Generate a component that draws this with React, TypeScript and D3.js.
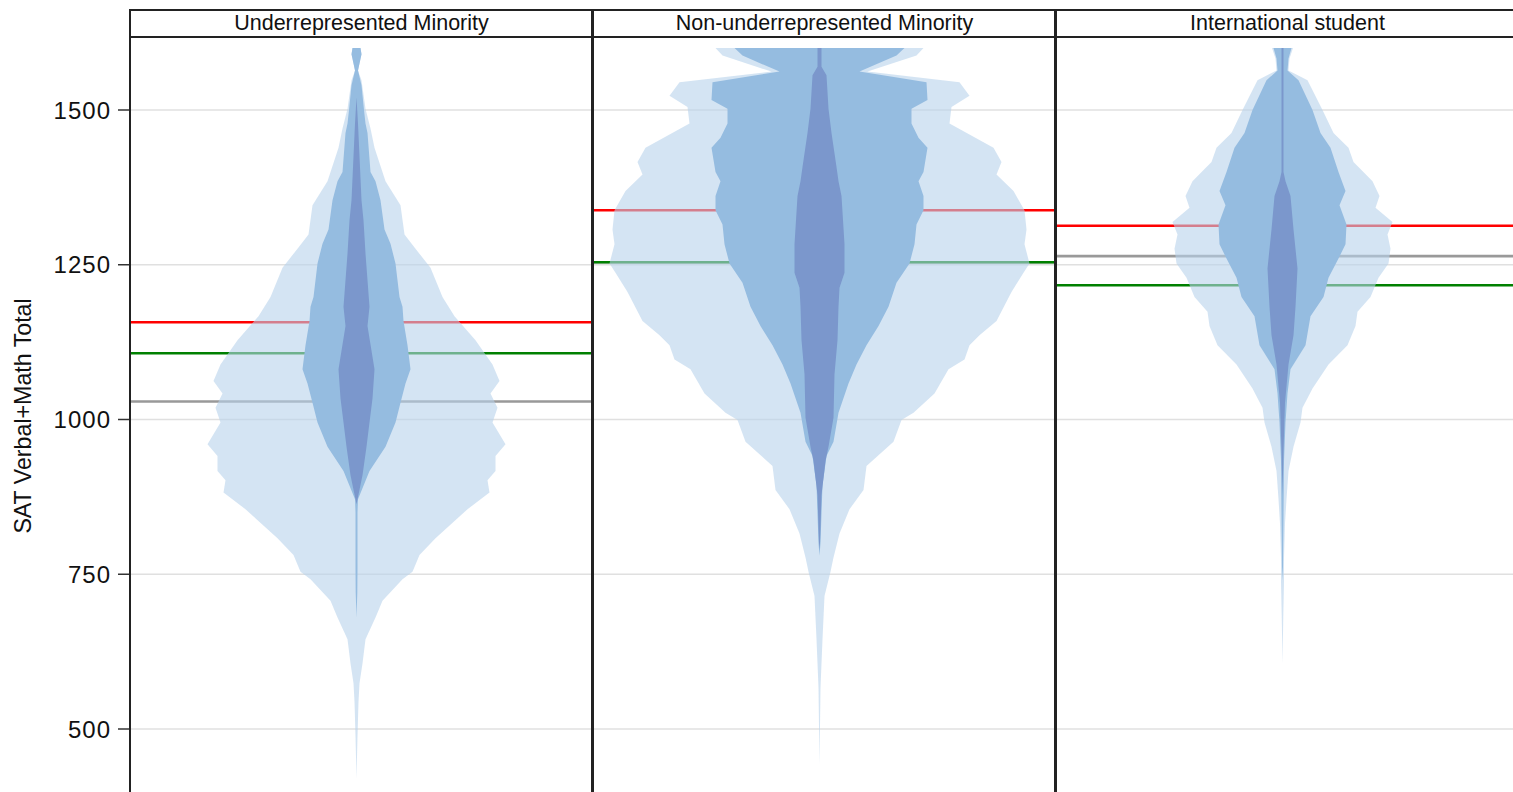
import React from 'react';
import * as d3 from 'd3';

type Pt = [number, number]; // [SAT score, relative density (half-width)]

const groups = ['Underrepresented Minority', 'Non-underrepresented Minority', 'International student'];
const yTicks = [500, 750, 1000, 1250, 1500];

// Underrepresented Minority
const urmOuter: Pt[] = [[1600,4],[1590,5],[1564,1.5],[1548,5],[1502,9],[1470,14],[1439,18],[1385,29],[1346,44],[1299,48],[1276,59],[1245,74],[1198,86],[1167,98],[1128,119],[1089,136],[1062,143],[1042,134],[1019,141],[995,136],[960,149],[941,139],[917,139],[902,131],[882,133],[855,111],[808,79],[781,63],[754,56],[742,46],[707,26],[680,19],[645,9],[606,6],[574,3],[544,2],[489,1],[420,0]];
const urmMid: Pt[] = [[1600,4],[1590,5],[1564,1.5],[1540,5],[1500,7.5],[1478,9],[1463,11],[1400,14],[1385,19],[1354,24],[1307,28],[1284,34],[1252,39],[1198,43],[1182,46],[1159,47],[1120,51],[1081,54],[1058,49],[1027,44],[995,39],[956,29],[917,13],[871,1.5],[850,1],[760,1],[720,0.8],[680,0]];
const urmInner: Pt[] = [[1520,0],[1478,1.5],[1354,5],[1322,7],[1268,9],[1182,13],[1151,11],[1081,18],[1034,16],[995,13],[956,10],[910,6],[863,0]];

// Non-underrepresented Minority
const nonOuter: Pt[] = [[1600,104],[1588,97],[1562,48],[1545,140],[1523,150],[1505,132],[1478,130],[1439,174],[1416,182],[1396,177],[1369,194],[1338,205],[1307,207],[1283,205],[1252,210],[1237,204],[1206,192],[1159,177],[1136,160],[1120,150],[1097,145],[1081,129],[1042,115],[1011,94],[999,82],[964,74],[925,47],[886,44],[855,30],[816,20],[777,14],[754,11],[715,5],[645,3],[567,1],[442,0]];
const nonMid: Pt[] = [[1600,85],[1588,77],[1562,40],[1545,107],[1516,108],[1502,92],[1478,92],[1455,99],[1439,108],[1400,104],[1385,99],[1361,104],[1338,104],[1315,97],[1283,95],[1252,90],[1221,77],[1182,69],[1151,59],[1120,47],[1089,37],[1058,29],[1011,19],[964,14],[941,7],[917,5],[894,3],[801,1],[780,0]];
const nonInner: Pt[] = [[1600,2],[1570,2],[1556,7],[1502,9],[1463,12],[1408,17],[1385,19],[1361,22],[1283,25],[1237,25],[1213,20],[1182,19],[1128,18],[1073,15],[1003,14],[956,9],[933,6],[878,2],[801,0.5],[790,0]];

// International student
const intOuter: Pt[] = [[1600,10.5],[1583,7],[1564,6],[1548,25],[1500,40],[1463,51],[1439,66],[1416,71],[1385,90],[1361,97],[1342,93],[1319,110],[1299,105],[1276,108],[1252,106],[1229,96],[1198,88],[1174,75],[1151,73],[1120,65],[1089,46],[1050,30],[1019,20],[995,18],[956,11],[917,6],[871,4],[832,2.5],[777,1.5],[738,1.5],[684,0.8],[606,0]];
const intMid: Pt[] = [[1600,9],[1583,6],[1564,5],[1548,16],[1500,30],[1463,38],[1439,48],[1400,56],[1369,63],[1346,57],[1315,64],[1283,63],[1260,56],[1229,46],[1198,41],[1167,28],[1120,23],[1081,8],[1042,5],[995,3],[933,1.5],[840,1],[762,0.5],[740,0]];
const intInner: Pt[] = [[1600,1],[1400,1],[1385,3],[1361,8],[1307,11],[1244,15],[1182,13],[1136,11],[1089,6],[1027,2.5],[949,1],[878,0]];

const outerLayers = [urmOuter, nonOuter, intOuter];
const midLayers = [urmMid, nonMid, intMid];
const innerLayers = [urmInner, nonInner, intInner];

const redLine = [1157, 1338, 1313];
const greenLine = [1107, 1254, 1217];
const grayLine = [1029, 1254, 1264];

const FONT = '"Liberation Sans", Arial, Helvetica, sans-serif';

export default function App() {
  const W = 1513;
  const H = 792;
  const plotTop = 37;
  const plotBottom = 820;
  const x = d3.scaleBand<string>().domain(groups).range([130, 130 + 3 * 463]).paddingInner(0);
  const bw = x.bandwidth();
  const y = d3.scaleLinear().domain([500, 1500]).range([729, 110]);
  const w = d3.scaleLinear().domain([0, 210]).range([0, 210]);

  const violin = (cx: number, pts: Pt[]) =>
    d3
      .area<Pt>()
      .y((d) => y(d[0]))
      .x0((d) => cx - w(d[1]))
      .x1((d) => cx + w(d[1]))
      .curve(d3.curveLinear)(pts) || '';

  return (
    <svg
      width={W}
      height={H}
      style={{ position: 'absolute', left: 0, top: 0, background: '#fff' }}
      fontFamily={FONT}
    >
      {/* y axis title */}
      <text
        transform={`translate(31, 416) rotate(-90)`}
        textAnchor="middle"
        fontSize={23.2}
        fill="#111"
      >
        SAT Verbal+Math Total
      </text>
      {/* y ticks */}
      {yTicks.map((t) => (
        <g key={t}>
          <line x1={118} x2={130} y1={y(t)} y2={y(t)} stroke="#333" strokeWidth={1.5} />
          <text x={111} y={y(t)} dy="0.36em" textAnchor="end" fontSize={24} letterSpacing={1} fill="#111">
            {t}
          </text>
        </g>
      ))}
      {groups.map((g, i) => {
        const x0 = x(g) as number;
        const cx = x0 + 226.5;
        const x1 = x0 + bw - 1;
        return (
          <g key={g}>
            {/* gridlines */}
            {yTicks.map((t) => (
              <line key={t} x1={x0} x2={x1} y1={y(t)} y2={y(t)} stroke="#e0e0e0" strokeWidth={1.3} />
            ))}
            {/* reference lines */}
            <line x1={x0} x2={x1} y1={y(grayLine[i])} y2={y(grayLine[i])} stroke="#999" strokeWidth={2.6} />
            <line x1={x0} x2={x1} y1={y(greenLine[i])} y2={y(greenLine[i])} stroke="#008000" strokeWidth={2.6} />
            <line x1={x0} x2={x1} y1={y(redLine[i])} y2={y(redLine[i])} stroke="#ff0000" strokeWidth={2.6} />
            {/* violins */}
            <path d={violin(cx, outerLayers[i])} fill="#b7d2eb" fillOpacity={0.6} />
            <path d={violin(cx, midLayers[i])} fill="#95bce0" />
            <path d={violin(cx, innerLayers[i])} fill="#7b97cc" />
            {/* panel frame */}
            <rect x={x0} y={plotTop} width={x1 - x0} height={plotBottom - plotTop} fill="none" stroke="#222" strokeWidth={2} />
            {/* strip */}
            <rect x={x0} y={10} width={x1 - x0} height={plotTop - 10} fill="#fff" stroke="#222" strokeWidth={2} />
            <text x={x0 + bw / 2} y={30} textAnchor="middle" fontSize={21.5} fill="#111">
              {g}
            </text>
          </g>
        );
      })}
    </svg>
  );
}
